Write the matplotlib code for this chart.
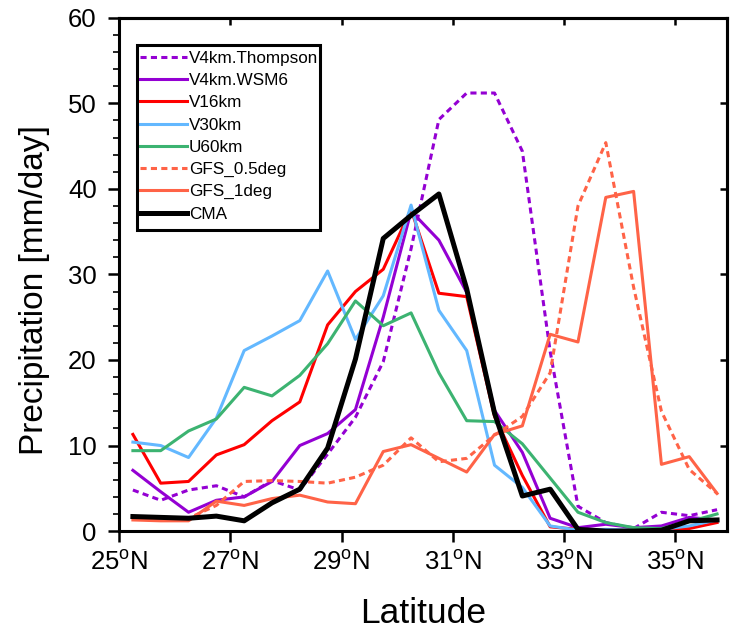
import numpy as np
import matplotlib.pyplot as plt
from matplotlib.patches import Rectangle

plt.rcParams['font.family'] = ['Liberation Sans', 'DejaVu Sans']
plt.rcParams['mathtext.fontset'] = 'custom'
plt.rcParams['mathtext.rm'] = 'Liberation Sans'

# latitud de los puntos (cada 0.5 grados)
lat = np.arange(25.25, 36.0, 0.5)

v4km_thompson = [4.8, 3.6, 4.8, 5.3, 4.0, 5.9, 4.8, 9.0, 13.3, 19.8, 33.0, 48.1,
                 51.2, 51.2, 44.4, 21.0, 2.9, 1.0, 0.3, 2.2, 1.8, 2.5]
v4km_wsm6 = [7.1, 4.6, 2.2, 3.6, 4.0, 5.8, 10.0, 11.4, 14.2, 25.0, 37.4, 34.0,
             27.9, 14.1, 9.2, 1.5, 0.4, 0.8, 0.4, 0.6, 1.6, 1.3]
v16km = [11.3, 5.6, 5.8, 8.9, 10.1, 12.9, 15.1, 24.1, 28.0, 30.6, 37.6, 27.8,
         27.4, 13.4, 6.5, 0.5, 0.2, 0.1, 0.1, 0.1, 0.3, 1.0]
v30km = [10.4, 10.0, 8.6, 13.2, 21.1, 22.8, 24.6, 30.4, 22.4, 27.5, 38.1, 25.8,
         21.1, 7.7, 5.1, 0.6, 0.1, 0.2, 0.1, 0.2, 0.6, 1.3]
u60km = [9.4, 9.4, 11.7, 13.1, 16.8, 15.8, 18.2, 21.9, 26.9, 24.0, 25.5, 18.5,
         12.9, 12.8, 10.2, 6.2, 2.2, 1.0, 0.4, 0.3, 1.1, 2.0]
gfs_05 = [1.4, 1.3, 1.5, 3.0, 5.8, 5.9, 5.8, 5.6, 6.3, 7.7, 10.9, 8.1,
          8.5, 11.2, 13.4, 18.5, 38.0, 45.4, 28.5, 14.0, 7.2, 4.4]
gfs_1 = [1.3, 1.2, 1.2, 3.5, 3.0, 3.8, 4.2, 3.4, 3.2, 9.3, 10.1, 8.5,
         6.9, 11.3, 12.3, 23.0, 22.1, 39.0, 39.7, 7.8, 8.7, 4.4]
cma = [1.7, 1.6, 1.5, 1.75, 1.2, 3.3, 4.9, 9.7, 20.1, 34.2, 36.9, 39.4,
       28.3, 13.8, 4.1, 4.9, 0.2, 0.0, 0.0, 0.1, 1.2, 1.3]

xticks = [25, 27, 29, 31, 33, 35]

W, H = 730, 633
fig = plt.figure(figsize=(W / 100, H / 100), dpi=100)
ax = fig.add_axes([0.163, 0.161, 0.833, 0.811])

lw = 2.2
dash = (0, (2.0, 1.4))
ax.plot(lat, v4km_thompson, color='#9400d3', lw=lw, ls=dash, label='V4km.Thompson')
ax.plot(lat, v4km_wsm6, color='#9400d3', lw=lw, label='V4km.WSM6')
ax.plot(lat, v16km, color='#ff0000', lw=lw, label='V16km')
ax.plot(lat, v30km, color='#63b8ff', lw=lw, label='V30km')
ax.plot(lat, u60km, color='#3cb371', lw=lw, label='U60km')
ax.plot(lat, gfs_05, color='#ff6347', lw=lw, ls=dash, label='GFS_0.5deg')
ax.plot(lat, gfs_1, color='#ff6347', lw=lw, label='GFS_1deg')
ax.plot(lat, cma, color='black', lw=3.6, label='CMA')

ax.set_xlim(25, 35.93)
ax.set_ylim(0, 60)

ax.set_xticks(xticks)
ax.set_xticklabels([r'%d$^{\rm o}$N' % t for t in xticks])
ax.set_yticks(np.arange(0, 61, 10))
ax.set_yticks(np.arange(0, 61, 2), minor=True)

for s in ax.spines.values():
    s.set_linewidth(2.2)

ax.tick_params(axis='both', which='major', direction='out', length=8, width=1.8,
               labelsize=18.5, top=False, right=False)
ax.tick_params(axis='y', which='minor', direction='out', length=4.5, width=1.2)
ax.tick_params(axis='x', pad=6)
ax.tick_params(axis='y', pad=8)

# marcas hacia adentro en los bordes derecho y superior
sec_y = ax.secondary_yaxis('right')
sec_y.set_yticks(np.arange(10, 60, 10))
sec_y.tick_params(direction='in', length=5, width=1.8, labelright=False)
sec_y.spines['right'].set_linewidth(2.2)
sec_x = ax.secondary_xaxis('top')
sec_x.set_xticks(xticks)
sec_x.tick_params(direction='in', length=5, width=1.8, labeltop=False)
sec_x.spines['top'].set_linewidth(2.2)

ax.set_xlabel('Latitude', fontsize=25.5, labelpad=16)
ax.set_ylabel('Precipitation [mm/day]', fontsize=24)
ax.yaxis.set_label_coords(-0.113, 0.47)

# leyenda sin marco propio; el recuadro se dibuja aparte
leg = ax.legend(loc='upper left', bbox_to_anchor=(140 / W, 1 - 51 / H),
                bbox_transform=fig.transFigure, borderaxespad=0, fontsize=12.3,
                frameon=False, handlelength=2.75, handletextpad=0.12,
                labelspacing=0.42, borderpad=0)
fig.add_artist(Rectangle((137 / W, 1 - 230 / H), (320 - 137) / W, (230 - 45) / H,
                         transform=fig.transFigure, fill=False,
                         edgecolor='black', lw=2.2))

fig.savefig('out.png', dpi=100)
